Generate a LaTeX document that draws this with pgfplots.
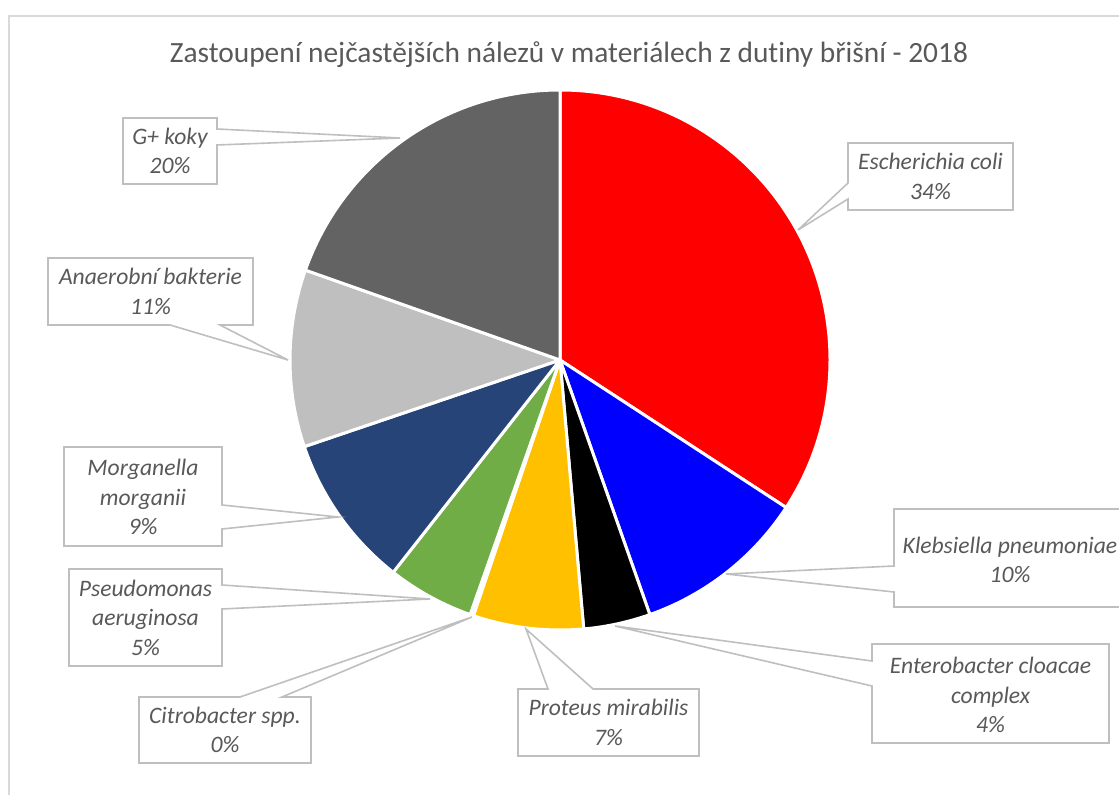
\documentclass[border=0pt]{standalone}
\usepackage{pgfplots}
\pgfplotsset{compat=1.18}
\usepackage{fontspec}
\setmainfont{Carlito}[Ligatures=NoCommon]
\definecolor{txt}{HTML}{595959}
\definecolor{callout}{HTML}{BFBFBF}
\definecolor{frame}{HTML}{D9D9D9}
\definecolor{cEcoli}{HTML}{FF0000}
\definecolor{cKleb}{HTML}{0000FF}
\definecolor{cEnt}{HTML}{000000}
\definecolor{cProt}{HTML}{FFC000}
\definecolor{cCitro}{HTML}{FFFFFF}
\definecolor{cPseu}{HTML}{70AD47}
\definecolor{cMorg}{HTML}{264478}
\definecolor{cAnae}{HTML}{BFBFBF}
\definecolor{cGplus}{HTML}{636363}
% slice values (percent), clockwise from 12 o'clock
\def\vA{34.2}\def\vB{10.4}\def\vC{4.0}\def\vD{6.6}\def\vE{0.2}
\def\vF{5.2}\def\vG{9.2}\def\vH{10.6}\def\vI{19.6}
\newcommand{\pieslice}[3]{% color, cumulative start, value
  \filldraw[fill=#1, draw=white, line width=1.5pt, line join=round]
    (axis cs:560,360) -- +({90-3.6*(#2)}:135pt)
    arc[start angle={90-3.6*(#2)}, delta angle={-3.6*(#3)}, radius=135pt] -- cycle;}
\tikzset{co/.style={draw=callout, fill=white, line width=0.8pt, line join=miter},
  lab/.style={font=\fontsize{11.8}{14.75}\selectfont\itshape, text=txt, align=center, inner sep=0pt}}
\begin{document}
\begin{tikzpicture}
\useasboundingbox (0,0) rectangle (559.5pt,397.5pt);
\clip (0,0) rectangle (559.5pt,397.5pt);
\begin{axis}[at={(0,0)}, anchor=south west, scale only axis,
  width=559.5pt, height=397.5pt, xmin=0, xmax=1119, ymin=0, ymax=795,
  y dir=reverse, hide axis, clip=false]
\draw[frame, line width=0.8pt] (axis cs:9,16) rectangle (axis cs:1140,830);
\node[font=\fontsize{14.7}{17}\selectfont, text=txt] at (axis cs:569,55)
  {Zastoupení nejčastějších nálezů v materiálech z dutiny břišní - 2018};
% pie
\pieslice{cEcoli}{0}{\vA}
\pieslice{cKleb}{\vA}{\vB}
\pieslice{cEnt}{\vA+\vB}{\vC}
\pieslice{cProt}{\vA+\vB+\vC}{\vD}
\pieslice{cCitro}{\vA+\vB+\vC+\vD}{\vE}
\pieslice{cPseu}{\vA+\vB+\vC+\vD+\vE}{\vF}
\pieslice{cMorg}{\vA+\vB+\vC+\vD+\vE+\vF}{\vG}
\pieslice{cAnae}{\vA+\vB+\vC+\vD+\vE+\vF+\vG}{\vH}
\pieslice{cGplus}{\vA+\vB+\vC+\vD+\vE+\vF+\vG+\vH}{\vI}
% callouts
\draw[co] (axis cs:123,118)--(axis cs:217,118)--(axis cs:217,129)--(axis cs:400,138)--(axis cs:217,145)--(axis cs:217,184)--(axis cs:123,184)--cycle;
\node[lab] at (axis cs:170,151) {G+ koky\\20\%};
\draw[co] (axis cs:48,258)--(axis cs:253,258)--(axis cs:253,325)--(axis cs:220,325)--(axis cs:288,360)--(axis cs:170,325)--(axis cs:48,325)--cycle;
\node[lab] at (axis cs:150.5,291.5) {Anaerobní bakterie\\11\%};
\draw[co] (axis cs:848,143)--(axis cs:1013,143)--(axis cs:1013,210)--(axis cs:848,210)--(axis cs:848,199)--(axis cs:798,230)--(axis cs:848,183)--cycle;
\node[lab] at (axis cs:930.5,176.5) {Escherichia coli\\34\%};
\draw[co] (axis cs:894,509)--(axis cs:1126,509)--(axis cs:1126,607)--(axis cs:894,607)--(axis cs:894,592)--(axis cs:726,574)--(axis cs:894,566)--cycle;
\node[lab] at (axis cs:1010,560) {Klebsiella pneumoniae\\10\%};
\draw[co] (axis cs:872,644)--(axis cs:1109,644)--(axis cs:1109,743)--(axis cs:872,743)--(axis cs:872,686)--(axis cs:615,626)--(axis cs:872,661)--cycle;
\node[lab] at (axis cs:990.5,695) {Enterobacter cloacae\\complex\\4\%};
\draw[co] (axis cs:518,689)--(axis cs:548,689)--(axis cs:526,629)--(axis cs:593,689)--(axis cs:699,689)--(axis cs:699,756)--(axis cs:518,756)--cycle;
\node[lab] at (axis cs:608.5,722.5) {Proteus mirabilis\\7\%};
\draw[co] (axis cs:64,447)--(axis cs:222,447)--(axis cs:222,505)--(axis cs:338,517)--(axis cs:222,529)--(axis cs:222,546)--(axis cs:64,546)--cycle;
\node[lab] at (axis cs:143,497) {Morganella\\morganii\\9\%};
\draw[co] (axis cs:69,569)--(axis cs:222,569)--(axis cs:222,585)--(axis cs:430,599)--(axis cs:222,609)--(axis cs:222,666)--(axis cs:69,666)--cycle;
\node[lab] at (axis cs:145.5,617.5) {Pseudomonas\\aeruginosa\\5\%};
\draw[co] (axis cs:139,697)--(axis cs:240,697)--(axis cs:472,617)--(axis cs:282,697)--(axis cs:311,697)--(axis cs:311,763)--(axis cs:139,763)--cycle;
\node[lab] at (axis cs:225,730) {Citrobacter spp.\\0\%};
\end{axis}
\end{tikzpicture}
\end{document}
